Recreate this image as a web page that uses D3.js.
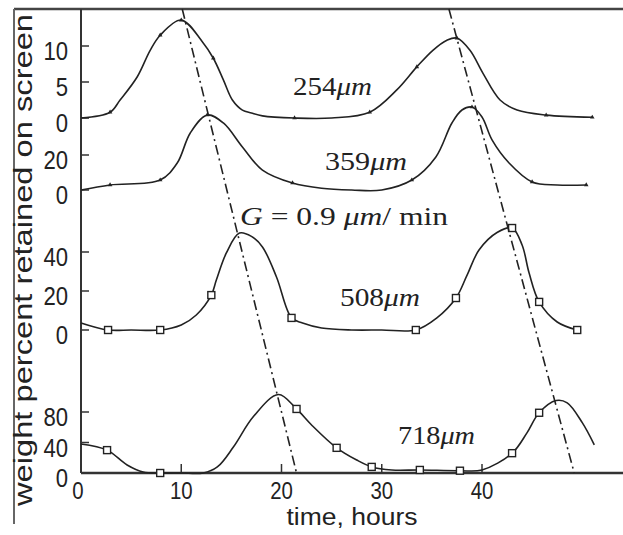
<!DOCTYPE html>
<html>
<head>
<meta charset="utf-8">
<script src="https://cdn.jsdelivr.net/npm/d3@7"></script>
<style>
  body { margin: 0; background: #fff; }
  svg { display: block; }
</style>
</head>
<body>
<script>
const W = 623, H = 535;

// time axis
const timeTicks = [0, 10, 20, 30, 40];

// 254 um
const t254 = [0, 2.9, 3.9, 5.6, 6.9, 7.9, 10, 12.1, 13.2, 14.2, 15.1, 16.1, 17, 18.1, 21.3, 25, 28.8, 31.5, 33.5, 35.1, 36.5, 37.5, 38.8, 40.1, 41.8, 43.5, 46.4, 51];
const v254 = [0, 0.8, 2.5, 5.7, 9.4, 11.5, 13.6, 10.6, 8.3, 5.3, 2.5, 1.1, 0.7, 0.3, 0, 0, 0.8, 3.9, 7.1, 9.4, 10.8, 11.1, 9.4, 6.2, 2.5, 1.1, 0.4, 0.1];
const m254 = [2.9, 7.9, 10, 13.2, 21.3, 28.8, 33.5, 37.5, 46.4, 51];
const ticks254 = [0, 5, 10];

// 359 um
const t359 = [0, 2.9, 7.9, 9.6, 10.9, 12.6, 14.2, 16.1, 18.1, 21.1, 24, 27, 30, 33, 35.4, 37, 38, 39, 40, 41, 42.7, 45, 47.5, 50.4];
const v359 = [0, 2.9, 5.7, 15.4, 32.6, 42.9, 38.3, 24.6, 11.4, 4, 1, 0, 0, 5.7, 18.9, 38.3, 45.7, 47.4, 41.7, 28.6, 15.4, 4.6, 2.9, 2.9];
const m359 = [2.9, 7.9, 12.6, 21.1, 33, 39, 45, 50.4];
const ticks359 = [0, 20];

// 508 um
const t508 = [0, 2.7, 5, 7.9, 10, 11.5, 13, 13.5, 14.5, 15.8, 17, 18.1, 19.5, 21, 22.1, 24, 27, 30, 33.4, 35.5, 37.4, 38.5, 39.7, 41.5, 43, 44, 44.7, 45.7, 47.5, 49.5];
const v508 = [3.6, 0, 0, 0, 2.6, 7.7, 17.9, 25.6, 39.5, 49.7, 48, 42.6, 27.2, 6.2, 3.6, 1, 0, 0, 0, 6.2, 16.4, 28, 41, 50, 52.3, 43.6, 29.2, 14.4, 4.1, 0];
const m508 = [2.7, 7.9, 13, 21, 33.4, 37.4, 43, 45.7, 49.5];
const ticks508 = [0, 20, 40];

// 718 um
const t718 = [0, 2.6, 4.6, 6.2, 7.9, 10, 12.2, 13.6, 15.2, 17.2, 19.7, 21.5, 23, 25.5, 27.5, 29, 31, 33.8, 37.8, 40, 43, 44.5, 45.7, 47.4, 48.5, 50, 51.2];
const v718 = [38, 30, 10.5, 1.3, 0, 0, 0, 7.9, 34, 74, 103, 84, 63, 33, 17, 8, 4, 4, 3, 4, 26, 53, 79, 95, 92, 66, 37];
const m718 = [2.6, 7.9, 21.5, 25.5, 29, 33.8, 37.8, 43, 45.7];
const ticks718 = [0, 40, 80];

// dash-dot guide lines joining the peaks (time at top edge, time at axis)
const guideTop = [10.1, 36.7];
const guideBottom = [21.5, 49.2];

const sizeLabels = ['254', '359', '508', '718'];

const svg = d3.select('body').append('svg')
  .attr('width', W)
  .attr('height', H);

const plotTop = 9, plotBottom = 473, plotLeft = 81;

const x = d3.scaleLinear().domain([0, 40]).range([plotLeft, 482]);

const panels = [
  { t: t254, v: v254, marks: m254, ticks: ticks254, scale: d3.scaleLinear().domain([0, 10]).range([118, 46]), shape: 'tri', lx: 293, ly: 95, lw: 79 },
  { t: t359, v: v359, marks: m359, ticks: ticks359, scale: d3.scaleLinear().domain([0, 20]).range([190, 155]), shape: 'tri', lx: 325, ly: 170, lw: 82 },
  { t: t508, v: v508, marks: m508, ticks: ticks508, scale: d3.scaleLinear().domain([0, 40]).range([330, 252]), shape: 'sq', lx: 340, ly: 306, lw: 80 },
  { t: t718, v: v718, marks: m718, ticks: ticks718, scale: d3.scaleLinear().domain([0, 80]).range([473, 412]), shape: 'sq', lx: 398, ly: 444, lw: 77 }
];

// frame
svg.append('line')
  .attr('x1', 14).attr('x2', W).attr('y1', plotTop).attr('y2', plotTop)
  .attr('stroke', '#444').attr('stroke-width', 2.5);
svg.append('line')
  .attr('x1', 14).attr('x2', 14).attr('y1', plotTop).attr('y2', 524)
  .attr('stroke', '#666').attr('stroke-width', 2);

// axes lines
svg.append('line')
  .attr('x1', plotLeft).attr('x2', plotLeft).attr('y1', plotTop).attr('y2', plotBottom)
  .attr('stroke', '#333').attr('stroke-width', 2);
svg.append('line')
  .attr('x1', plotLeft).attr('x2', W).attr('y1', plotBottom).attr('y2', plotBottom)
  .attr('stroke', '#333').attr('stroke-width', 2.5);

function squeeze(sel, factor) {
  sel.each(function() {
    const len = this.getComputedTextLength();
    d3.select(this).attr('textLength', len * factor).attr('lengthAdjust', 'spacingAndGlyphs');
  });
}

// x ticks
svg.selectAll('.xtick')
  .data(timeTicks)
  .join('line')
    .attr('x1', d => x(d)).attr('x2', d => x(d))
    .attr('y1', plotBottom).attr('y2', plotBottom - 9)
    .attr('stroke', '#333').attr('stroke-width', 1.5);

svg.selectAll('.xlab')
  .data(timeTicks)
  .join('text')
    .attr('x', d => x(d) - (d === 0 ? 3 : 0))
    .attr('y', 499)
    .attr('text-anchor', 'middle')
    .style('font-family', 'Liberation Sans, Arial, sans-serif')
    .style('font-size', '24px')
    .style('fill', '#222')
    .text(d => d)
    .call(squeeze, 0.85);

// panels
panels.forEach(function(p) {
  const pts = p.t.map((t, i) => [t, p.v[i]]);

  svg.selectAll(null)
    .data(p.ticks)
    .join('line')
      .attr('x1', plotLeft).attr('x2', plotLeft + 8)
      .attr('y1', d => p.scale(d)).attr('y2', d => p.scale(d))
      .attr('stroke', '#333').attr('stroke-width', 1.5);

  svg.selectAll(null)
    .data(p.ticks)
    .join('text')
      .attr('x', 68)
      .attr('y', d => p.scale(d) + 14)
      .attr('text-anchor', 'end')
      .style('font-family', 'Liberation Sans, Arial, sans-serif')
      .style('font-size', '26px')
      .style('fill', '#222')
      .text(d => d)
      .call(squeeze, 0.85);

  const line = d3.line()
    .x(d => x(d[0]))
    .y(d => Math.min(p.scale(0), p.scale(d[1])))
    .curve(d3.curveCatmullRom.alpha(0.5));

  svg.append('path')
    .attr('d', line(pts))
    .attr('fill', 'none')
    .attr('stroke', '#222')
    .attr('stroke-width', 1.6);

  const markPts = pts.filter(d => p.marks.indexOf(d[0]) >= 0);
  if (p.shape === 'tri') {
    svg.selectAll(null)
      .data(markPts)
      .join('path')
        .attr('transform', d => 'translate(' + x(d[0]) + ',' + p.scale(d[1]) + ')')
        .attr('d', d3.symbol(d3.symbolTriangle, 9))
        .attr('fill', '#222');
  } else {
    svg.selectAll(null)
      .data(markPts)
      .join('rect')
        .attr('x', d => x(d[0]) - 3.5)
        .attr('y', d => p.scale(d[1]) - 3.5)
        .attr('width', 7).attr('height', 7)
        .attr('fill', '#fff')
        .attr('stroke', '#222')
        .attr('stroke-width', 1.4);
  }
});

// guide lines
guideTop.forEach(function(t0, i) {
  svg.append('line')
    .attr('x1', x(t0)).attr('y1', plotTop)
    .attr('x2', x(guideBottom[i])).attr('y2', plotBottom)
    .attr('stroke', '#222')
    .attr('stroke-width', 1.6)
    .attr('stroke-dasharray', '10,4,2,4');
});

// size labels
panels.forEach(function(p, i) {
  const txt = svg.append('text')
    .attr('x', p.lx)
    .attr('y', p.ly)
    .attr('textLength', p.lw)
    .attr('lengthAdjust', 'spacingAndGlyphs')
    .style('font-family', 'Liberation Serif, Times New Roman, serif')
    .style('font-size', '26px')
    .style('fill', '#222');
  txt.append('tspan').text(sizeLabels[i]);
  txt.append('tspan').style('font-style', 'italic').text('\u03bcm');
});

// growth rate note
const g = svg.append('text')
  .attr('x', 240)
  .attr('y', 225)
  .attr('textLength', 208)
  .attr('lengthAdjust', 'spacingAndGlyphs')
  .style('font-family', 'Liberation Serif, Times New Roman, serif')
  .style('font-size', '26px')
  .style('fill', '#222');
g.append('tspan').style('font-style', 'italic').text('G');
g.append('tspan').text(' = 0.9 ');
g.append('tspan').style('font-style', 'italic').text('\u03bcm');
g.append('tspan').text('/ min');

// axis titles
svg.append('text')
  .attr('x', 352)
  .attr('y', 525)
  .attr('text-anchor', 'middle')
  .attr('textLength', 131)
  .attr('lengthAdjust', 'spacingAndGlyphs')
  .style('font-family', 'Liberation Sans, Arial, sans-serif')
  .style('font-size', '23px')
  .style('fill', '#222')
  .text('time, hours');

svg.append('text')
  .attr('transform', 'translate(32,260) rotate(-90)')
  .attr('text-anchor', 'middle')
  .attr('textLength', 492)
  .attr('lengthAdjust', 'spacingAndGlyphs')
  .style('font-family', 'Liberation Sans, Arial, sans-serif')
  .style('font-size', '25px')
  .style('fill', '#222')
  .text('weight percent retained on screen');
</script>
</body>
</html>
